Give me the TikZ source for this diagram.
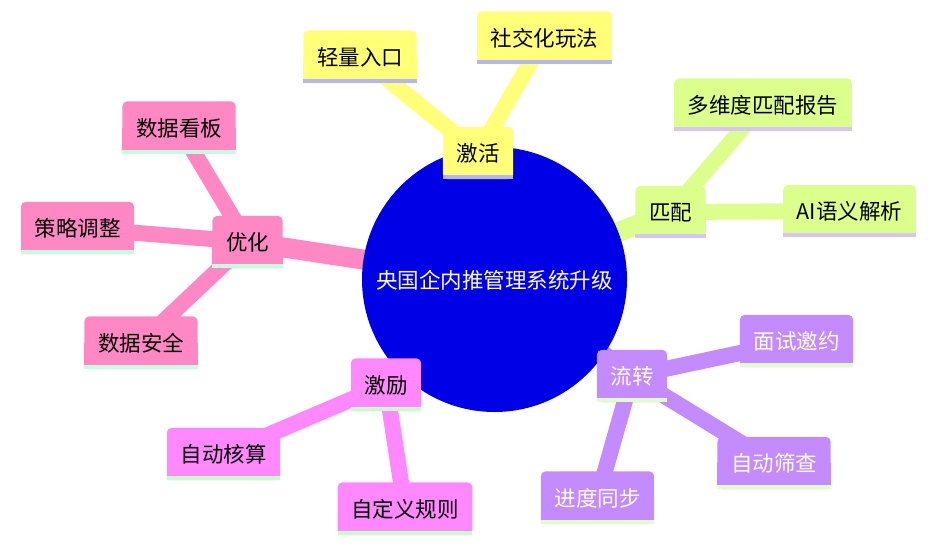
\documentclass[tikz,border=0pt]{standalone}
\usepackage{fontspec}
\setmainfont{Noto Sans CJK SC}
\pgfdeclarelayer{bg}
\pgfdeclarelayer{mid}
\pgfsetlayers{bg,mid,main}
\definecolor{cblue}{HTML}{0000E6}
\definecolor{yelF}{HTML}{FFFF78}
\definecolor{yelU}{HTML}{B4B4FF}
\definecolor{grnF}{HTML}{DCFF8C}
\definecolor{grnU}{HTML}{D4C4FF}
\definecolor{purF}{HTML}{C48AFF}
\definecolor{purU}{HTML}{E0FFC8}
\definecolor{magF}{HTML}{FF88FF}
\definecolor{magU}{HTML}{C4FFC8}
\definecolor{pnkF}{HTML}{FF88C4}
\definecolor{pnkU}{HTML}{C0FFE0}
\tikzset{
  mmtext/.style={inner xsep=13.5pt, inner ysep=0pt, minimum height=52pt,
    text height=19.25pt, text depth=2.25pt, font=\fontsize{21.5}{24}\selectfont},
  mainedge/.style={line width=20pt},
  subedge/.style={line width=16pt},
}
\newcommand\mmbox[7]{%
  \node[mmtext, text=#7] (#1) at (#2,#3) {#4};
  \begin{pgfonlayer}{mid}
    \fill[#5, rounded corners=5pt] (#1.south west) rectangle (#1.north east);
    \fill[#5] (#1.south west) rectangle (#1.east);
    \fill[#6] (#1.south west) rectangle ([yshift=4pt]#1.south east);
  \end{pgfonlayer}}
\begin{document}
\begin{tikzpicture}[x=1pt,y=-1pt]
\useasboundingbox (0,0) rectangle (933,554);
% center
\node[circle, minimum size=264pt, inner sep=0pt, text=white,
  text height=19.25pt, text depth=2.25pt,
  font=\fontsize{21.5}{24}\selectfont] (c) at (494.5,279.5) {央国企内推管理系统升级};
\begin{pgfonlayer}{mid}
  \fill[cblue] (c.center) circle (132.5pt);
\end{pgfonlayer}
% yellow
\mmbox{jh}{478}{153}{激活}{yelF}{yelU}{black}
\mmbox{qlrk}{360}{56.5}{轻量入口}{yelF}{yelU}{black}
\mmbox{sjwf}{544.5}{37.5}{社交化玩法}{yelF}{yelU}{black}
% green
\mmbox{pp}{670.5}{212}{匹配}{grnF}{grnU}{black}
\mmbox{dwd}{763}{104.5}{多维度匹配报告}{grnF}{grnU}{black}
\mmbox{ai}{849.5}{211}{AI语义解析}{grnF}{grnU}{black}
% purple
\mmbox{lz}{632}{376}{流转}{purF}{purU}{white}
\mmbox{msyy}{796.5}{341}{面试邀约}{purF}{purU}{white}
\mmbox{zdsc}{774}{463}{自动筛查}{purF}{purU}{white}
\mmbox{jdtb}{597.5}{497.5}{进度同步}{purF}{purU}{white}
% magenta
\mmbox{jl}{386}{384.5}{激励}{magF}{magU}{black}
\mmbox{zdhs}{223.5}{454}{自动核算}{magF}{magU}{black}
\mmbox{zdygz}{405}{508.5}{自定义规则}{magF}{magU}{black}
% pink
\mmbox{yh}{247.5}{242}{优化}{pnkF}{pnkU}{black}
\mmbox{sjkb}{179}{127.5}{数据看板}{pnkF}{pnkU}{black}
\mmbox{cltz}{77.5}{228}{策略调整}{pnkF}{pnkU}{black}
\mmbox{sjaq}{141}{342.5}{数据安全}{pnkF}{pnkU}{black}
% edges
\begin{pgfonlayer}{bg}
  \draw[yelF, mainedge] (c.center) -- (jh.center);
  \draw[yelF, subedge] (jh.center) -- (qlrk.center);
  \draw[yelF, subedge] (jh.center) -- (sjwf.center);
  \draw[grnF, mainedge] (c.center) -- (pp.center);
  \draw[grnF, subedge] (pp.center) -- (dwd.center);
  \draw[grnF, subedge] (pp.center) -- (ai.center);
  \draw[purF, mainedge] (c.center) -- (lz.center);
  \draw[purF, subedge] (lz.center) -- (msyy.center);
  \draw[purF, subedge] (lz.center) -- (zdsc.center);
  \draw[purF, subedge] (lz.center) -- (jdtb.center);
  \draw[magF, mainedge] (c.center) -- (jl.center);
  \draw[magF, subedge] (jl.center) -- (zdhs.center);
  \draw[magF, subedge] (jl.center) -- (zdygz.center);
  \draw[pnkF, mainedge] (c.center) -- (yh.center);
  \draw[pnkF, subedge] (yh.center) -- (sjkb.center);
  \draw[pnkF, subedge] (yh.center) -- (cltz.center);
  \draw[pnkF, subedge] (yh.center) -- (sjaq.center);
\end{pgfonlayer}
\end{tikzpicture}
\end{document}
